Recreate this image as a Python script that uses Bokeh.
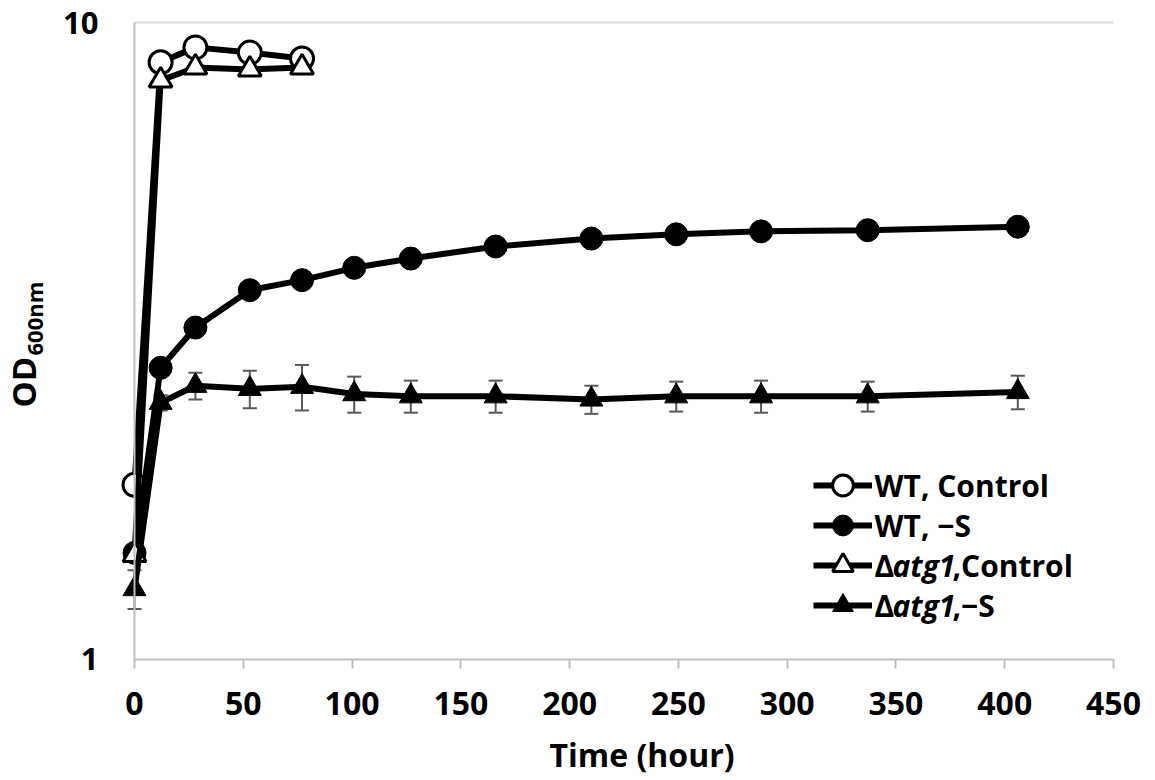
import math
from bokeh.plotting import figure
from bokeh.models import (Range1d, FixedTicker, NumeralTickFormatter, Whisker, TeeHead,
                          ColumnDataSource, Legend, LegendItem, Label)
from bokeh.embed import file_html
from bokeh.resources import INLINE

# ---- data ----
x_ctrl = [0, 12, 28, 53, 77]
wt_ctrl = [1.88, 8.66, 9.14, 8.97, 8.78]
atg_ctrl = [1.46, 8.11, 8.50, 8.44, 8.50]

x_s = [0, 12, 28, 53, 77, 101, 127, 166, 210, 249, 288, 337, 406]
wt_s = [1.47, 2.87, 3.32, 3.80, 3.94, 4.12, 4.26, 4.45, 4.58, 4.65, 4.70, 4.72, 4.78]
atg_s = [1.29, 2.53, 2.69, 2.66, 2.68, 2.61, 2.59, 2.59, 2.56, 2.59, 2.59, 2.59, 2.63]
atg_s_err = [0.09, 0.07, 0.13, 0.18, 0.22, 0.17, 0.15, 0.15, 0.13, 0.14, 0.15, 0.14, 0.16]

x_ticks = [0, 50, 100, 150, 200, 250, 300, 350, 400, 450]
y_ticks = [1, 10]

FONT = "Open Sans"
AXIS_GRAY = "#BFBFBF"

# The frame covers nearly the whole canvas (so nothing is clipped); the axes are
# fixed at x = 0 and y = 1 and bounded to the chart's extent.
p = figure(y_axis_type="log", x_range=Range1d(-57.92, 467.0), y_range=Range1d(0.6574, 10.634),
           frame_width=1142, frame_height=770, min_border_left=8, min_border_top=5,
           min_border_right=5, min_border_bottom=5,
           output_backend="svg", toolbar_location=None)
p.outline_line_color = None
p.background_fill_color = "white"
p.border_fill_color = "white"
p.xgrid.visible = False
p.ygrid.visible = False

# top gridline (at the upper y tick), spanning the x-axis extent
p.segment(x0=[x_ticks[0]], x1=[x_ticks[-1]], y0=[y_ticks[-1]], y1=[y_ticks[-1]],
          line_color="#D9D9D9", line_width=2)

# x axis
xa = p.xaxis[0]
xa.fixed_location = y_ticks[0]
xa.ticker = FixedTicker(ticks=x_ticks)
xa.bounds = (x_ticks[0], x_ticks[-1])
xa.axis_line_color = AXIS_GRAY
xa.axis_line_width = 2
xa.major_tick_line_color = AXIS_GRAY
xa.major_tick_line_width = 2
xa.major_tick_in = 0
xa.major_tick_out = 9
xa.minor_tick_line_color = None
xa.major_label_standoff = 24
xa.major_label_text_font = FONT
xa.major_label_text_font_style = "bold"
xa.major_label_text_font_size = "32px"
xa.major_label_text_color = "black"

# y axis
ya = p.yaxis[0]
ya.fixed_location = x_ticks[0]
ya.ticker = FixedTicker(ticks=y_ticks)
ya.bounds = (y_ticks[0], y_ticks[-1])
ya.formatter = NumeralTickFormatter(format="0")
ya.axis_line_color = AXIS_GRAY
ya.axis_line_width = 2
ya.major_tick_line_color = None
ya.minor_tick_line_color = None
ya.major_tick_in = 0
ya.major_tick_out = 0
ya.major_label_standoff = 36
ya.major_label_text_font = FONT
ya.major_label_text_font_style = "bold"
ya.major_label_text_font_size = "31px"
ya.major_label_text_color = "black"

LW = 6
MS = 23

# WT, Control
r1l = p.line(x_ctrl, wt_ctrl, line_color="black", line_width=LW)
r1m = p.scatter(x_ctrl, wt_ctrl, marker="circle", size=MS, fill_color="white",
                line_color="black", line_width=3)
# WT, -S
r2l = p.line(x_s, wt_s, line_color="black", line_width=LW)
r2m = p.scatter(x_s, wt_s, marker="circle", size=MS, fill_color="black",
                line_color="black", line_width=1)
# atg1 control
r3l = p.line(x_ctrl, atg_ctrl, line_color="black", line_width=LW)
r3m = p.scatter(x_ctrl, atg_ctrl, marker="triangle", size=MS, fill_color="white",
                line_color="black", line_width=3)
# atg1 -S with error bars
src = ColumnDataSource(dict(x=x_s, y=atg_s,
                            lo=[v - e for v, e in zip(atg_s, atg_s_err)],
                            hi=[v + e for v, e in zip(atg_s, atg_s_err)]))
wh = Whisker(source=src, base="x", lower="lo", upper="hi", line_color="#595959",
             line_width=2,
             upper_head=TeeHead(size=14, line_color="#595959", line_width=2),
             lower_head=TeeHead(size=14, line_color="#595959", line_width=2))
p.add_layout(wh)
r4l = p.line("x", "y", source=src, line_color="black", line_width=LW)
r4m = p.scatter("x", "y", source=src, marker="triangle", size=MS, fill_color="black",
                line_color="black", line_width=1)

# legend: one sample per row (larger glyph box -> larger markers); texts as labels
LEG_FS = "30px"
tx = 866
rows_y = [290, 250, 210, 170]
GH = 52
for rends, yc in zip([[r1l, r1m], [r2l, r2m], [r3l, r3m], [r4l, r4m]], rows_y):
    lg = Legend(items=[LegendItem(label=" ", renderers=rends)],
                location=(805, yc - GH // 2), glyph_width=59, glyph_height=GH,
                label_height=GH, padding=0, margin=0, label_standoff=0,
                border_line_color=None, background_fill_alpha=0,
                label_text_font_size="1px")
    p.add_layout(lg, "center")

def lab(x, y, text, style="bold", size=LEG_FS, angle=0.0, baseline="middle", align="left"):
    p.add_layout(Label(x=x, y=y, x_units="screen", y_units="screen", text=text,
                       text_font=FONT, text_font_style=style, text_font_size=size,
                       text_color="black", text_baseline=baseline, text_align=align,
                       angle=angle))

lab(tx, rows_y[0], "WT, Control")
lab(tx, rows_y[1], "WT, \u2212S")
for y, tail in [(rows_y[2], ",Control"), (rows_y[3], ",\u2212S")]:
    lab(tx, y, "\u0394")
    lab(tx + 18, y, "atg1", style="bold italic")
    lab(tx + 18 + 60, y, tail)

# axis titles
lab(15, 368, "OD", size="33px", angle=math.pi / 2, baseline="alphabetic")
lab(25, 420, "600nm", size="22px", angle=math.pi / 2, baseline="alphabetic")
lab(541, 21, "Time (hour)", size="32px", baseline="alphabetic")

open("out.html", "w").write(file_html(p, INLINE))
